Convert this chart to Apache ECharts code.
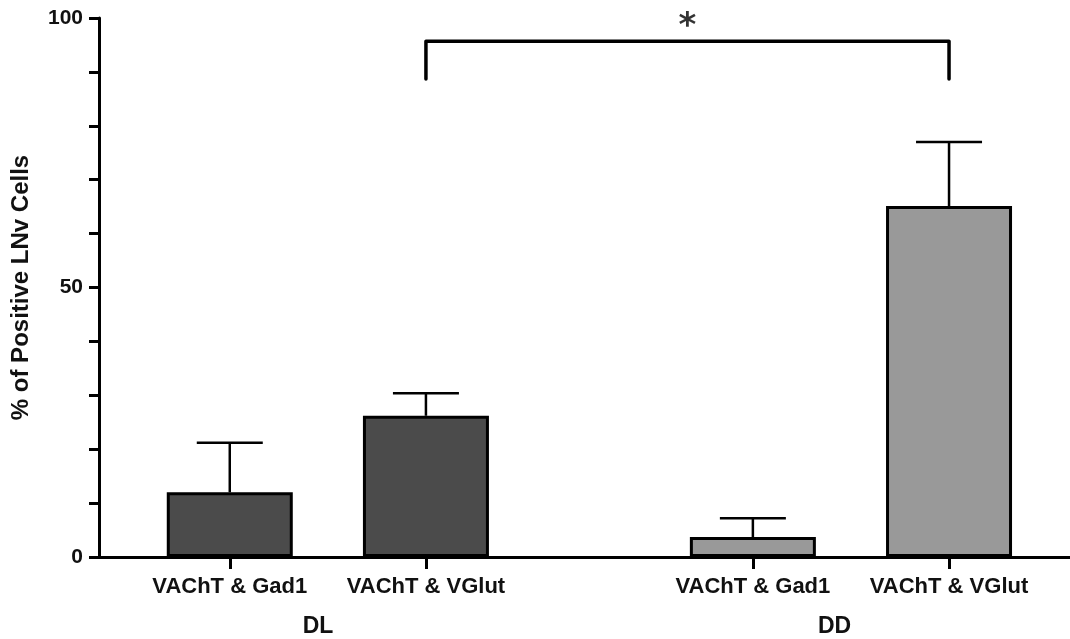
<!DOCTYPE html>
<html>
<head>
<meta charset="utf-8">
<script src="https://cdn.jsdelivr.net/npm/echarts@6/dist/echarts.min.js"></script>
<style>
  html, body { margin: 0; padding: 0; background: #fff; }
  #chart { width: 1070px; height: 639px; }
</style>
</head>
<body>
<div id="chart"></div>
<script>
// data
const categories = ['VAChT & Gad1', 'VAChT & VGlut', 'VAChT & Gad1', 'VAChT & VGlut'];
const groups = ['DL', 'DL', 'DD', 'DD'];
const means = [12, 26.2, 3.7, 65.1];
const errors = [9.2, 4.2, 3.5, 11.9];
const groupNames = ['DL', 'DD'];
const yTicks = [0, 50, 100];
const sigStar = '*';

// layout (slot positions on the x value axis)
const slots = [2, 5, 10, 13];
const groupLabelSlots = [3.35, 11.25];
const sigPair = [1, 3];         // bracket between bar 1 and bar 3
const sigTop = 95.7, sigLeg = 88.7, starY = 98.3;
const groupColor = {DL: '#4b4b4b', DD: '#999999'};
const font = 'Liberation Sans, Arial, sans-serif';

const chart = echarts.init(document.getElementById('chart'));

const barData = means.map((v, i) => ({
  value: [slots[i], v],
  itemStyle: {color: groupColor[groups[i]]}
}));
const errData = means.map((v, i) => [slots[i], v, v + errors[i]]);

chart.setOption({
  animation: false,
  grid: {left: 99, top: 18, bottom: 82, right: 0},
  xAxis: [
    {
      type: 'value',
      min: 0,
      max: 14.85,
      splitLine: {show: false},
      axisLine: {show: true, onZero: false, lineStyle: {color: '#000', width: 3}},
      axisTick: {show: true, customValues: slots, length: 12, lineStyle: {color: '#000', width: 3}},
      axisLabel: {
        customValues: slots,
        margin: 19,
        color: '#111',
        fontFamily: font,
        fontWeight: 'bold',
        fontSize: 22,
        formatter: val => categories[slots.indexOf(val)] || ''
      }
    },
    {
      type: 'value',
      position: 'bottom',
      min: 0,
      max: 14.85,
      splitLine: {show: false},
      axisLine: {show: false},
      axisTick: {show: false},
      axisLabel: {
        customValues: groupLabelSlots,
        margin: 58,
        color: '#111',
        fontFamily: font,
        fontWeight: 'bold',
        fontSize: 23,
        formatter: val => groupNames[groupLabelSlots.indexOf(val)] || ''
      }
    }
  ],
  yAxis: {
    type: 'value',
    min: 0,
    max: 100,
    interval: 10,
    name: '% of Positive LNv Cells',
    nameLocation: 'middle',
    nameGap: 66,
    nameTextStyle: {color: '#111', fontFamily: font, fontWeight: 'bold', fontSize: 24},
    splitLine: {show: false},
    axisLine: {show: true, lineStyle: {color: '#000', width: 3}},
    axisTick: {show: true, length: 10, lineStyle: {color: '#000', width: 3}},
    axisLabel: {
      margin: 16,
      color: '#111',
      fontFamily: font,
      fontWeight: 'bold',
      fontSize: 21,
      formatter: val => (yTicks.indexOf(val) >= 0 ? String(val) : '')
    }
  },
  series: [
    {
      type: 'bar',
      xAxisIndex: 0,
      barWidth: 126,
      data: barData,
      itemStyle: {borderColor: '#000', borderWidth: 3},
      z: 2
    },
    {
      type: 'custom',
      xAxisIndex: 0,
      data: errData,
      z: 1,
      renderItem: (params, api) => {
        const base = api.coord([api.value(0), api.value(1)]);
        const top = api.coord([api.value(0), api.value(2)]);
        const half = 33;
        return {
          type: 'group',
          children: [
            {type: 'line', shape: {x1: base[0], y1: base[1], x2: top[0], y2: top[1]},
              style: {stroke: '#000', lineWidth: 2.5}},
            {type: 'line', shape: {x1: top[0] - half, y1: top[1], x2: top[0] + half, y2: top[1]},
              style: {stroke: '#000', lineWidth: 2.5}}
          ]
        };
      }
    },
    {
      type: 'line',
      xAxisIndex: 0,
      symbol: 'none',
      lineStyle: {color: '#000', width: 3.5, cap: 'round', join: 'round'},
      data: [
        [slots[sigPair[0]], sigLeg],
        [slots[sigPair[0]], sigTop],
        [slots[sigPair[1]], sigTop],
        [slots[sigPair[1]], sigLeg]
      ]
    },
    {
      type: 'scatter',
      xAxisIndex: 0,
      symbolSize: 0,
      data: [[(slots[sigPair[0]] + slots[sigPair[1]]) / 2, starY]],
      label: {
        show: true,
        position: 'inside',
        formatter: sigStar,
        color: '#000',
        fontFamily: 'DejaVu Sans, sans-serif',
        fontWeight: 'bold',
        fontSize: 34
      }
    }
  ]
});
</script>
</body>
</html>
